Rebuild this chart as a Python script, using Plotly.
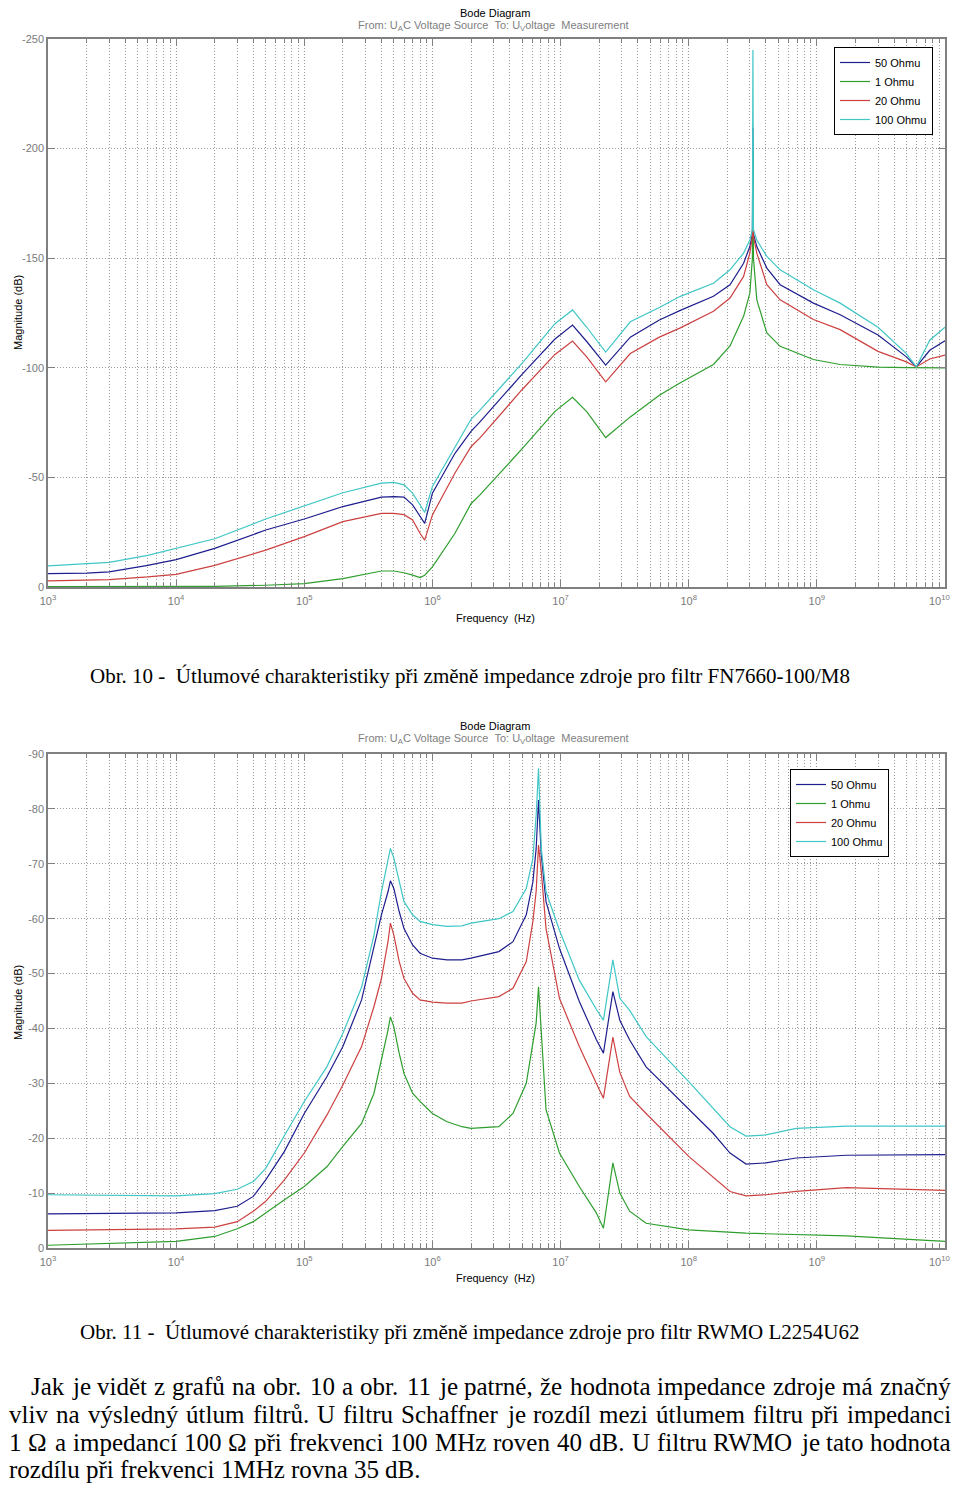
import plotly.graph_objects as go

# page is 960x1491; the browser body keeps an 8px margin, so the figure is 944x1475
PAGE_W, PAGE_H = 960, 1491
OFF = 8
W, H = PAGE_W - 2 * OFF, PAGE_H - 2 * OFF

# ---------------- Obr. 10 (FN7660-100/M8) ----------------
top_freq = [1e3, 2e3, 3e3, 6e3, 1e4, 2e4, 5e4, 1e5, 2e5, 4e5,
            5e5, 6e5, 7e5, 8e5, 8.7e5, 1e6, 1.5e6, 2e6, 2.35e6, 5e6,
            9e6, 1.24e7, 1.6e7, 2.25e7, 3.5e7, 5.9e7, 8.6e7, 1.56e8, 2.1e8, 2.68e8,
            3e8, 3.14e8, 3.17e8, 3.2e8, 3.4e8, 4.07e8, 5.17e8, 9.4e8, 1.52e9, 3e9,
            5e9, 5.97e9, 7.6e9, 1e10]
top_50 = [6.1, 6.3, 6.9, 9.9, 12.5, 17.6, 26, 31, 36.7, 41,
          41.2, 41, 37.5, 32, 29, 42.8, 61, 71, 75.3, 97,
          113, 119.5, 112, 101.2, 114, 121.8, 126.2, 132.6, 137.9, 147.7,
          155.3, 161, 209.5, 161, 155.3, 145.5, 137.9, 129.5, 124.2, 115,
          105, 100.4, 108, 112.3]
top_1 = [0.2, 0.2, 0.2, 0.2, 0.2, 0.3, 0.8, 1.5, 3.8, 7.3,
         7.3, 6.5, 5.4, 4.3, 5.4, 9.2, 24.5, 38, 42, 63,
         80, 86.5, 80, 68.2, 77.6, 87.5, 93.2, 101.5, 110, 123.5,
         134, 150, 196, 150, 131, 115.9, 109.8, 103.8, 101.5, 100.3,
         100.1, 100, 100, 100]
top_20 = [2.8, 3.0, 3.4, 4.6, 5.8, 9.9, 16.8, 23, 29.8, 33.6,
          33.6, 33, 30.6, 24.5, 21.4, 32.9, 52, 64, 68, 90,
          106, 112.2, 105, 93.6, 106.5, 114, 118.2, 125.8, 131.8, 141.7,
          152.3, 160, 170.5, 160, 152.3, 137.9, 131, 122, 117.4, 107.5,
          102.7, 100.4, 104, 105.8]
top_100 = [9.6, 10.5, 11.2, 14.4, 17.6, 22, 31, 37, 43, 47.4,
           47.7, 46.6, 42.8, 37.5, 34, 45.9, 64, 76.5, 80.7, 102,
           120, 126.4, 118.5, 107.2, 121, 127.5, 132.6, 138.6, 144.7, 152.3,
           158.3, 163, 245, 163, 158.3, 150.8, 144.7, 135.6, 129.5, 118.5,
           106.5, 100.4, 112.6, 118.5]

# ---------------- Obr. 11 (RWMO L2254U62) ----------------
bot_freq = [1e3, 1e4, 2e4, 3e4, 4e4, 5e4, 7e4, 1e5, 1.5e5, 2e5,
            2.8e5, 3.5e5, 4e5, 4.5e5, 4.7e5, 5e5, 5.5e5, 6e5, 7e5, 8e5,
            1e6, 1.3e6, 1.7e6, 2e6, 3.3e6, 4.25e6, 5.4e6, 6.08e6, 6.45e6, 6.73e6,
            7.07e6, 7.7e6, 9.8e6, 1.4e7, 1.9e7, 2.16e7, 2.56e7, 2.9e7, 3.46e7, 4.65e7,
            1e8, 1.55e8, 2.1e8, 2.8e8, 4e8, 6.9e8, 1.7e9, 1e10]
bot_50 = [6.2, 6.4, 6.8, 7.6, 9.4, 12.4, 17.6, 24.5, 31.2, 36.7,
          45.2, 54.6, 60.7, 64.9, 66.9, 65.5, 61.3, 58.2, 55.2, 53.7,
          52.8, 52.5, 52.5, 52.8, 54, 55.8, 60.7, 66.7, 72.8, 81.6,
          71.6, 63.1, 54.6, 44.9, 38, 35.5, 46.7, 41.5, 37.9, 33,
          25.2, 20.9, 17.3, 15.3, 15.5, 16.4, 16.9, 17]
bot_1 = [0.5, 1.2, 2.1, 3.5, 4.8, 6.4, 8.8, 11.2, 14.8, 18.5,
         22.7, 28.2, 34.2, 39.7, 42.1, 40.3, 35.5, 31.8, 28.2, 26.7,
         24.5, 23, 22.1, 21.8, 22.1, 24.5, 30, 37.3, 41, 47.6,
         39.1, 25.2, 17.3, 11.2, 6.4, 3.6, 15.5, 10, 6.7, 4.5,
         3.3, 3.0, 2.8, 2.7, 2.6, 2.5, 2.2, 1.2]
bot_20 = [3.2, 3.5, 3.8, 4.8, 6.7, 8.5, 12.4, 17.3, 24.2, 29.7,
          36.7, 44, 49.1, 55.8, 59.2, 57, 52.2, 49.1, 46.4, 45.2,
          44.8, 44.6, 44.6, 45, 45.8, 47.3, 52.2, 59.5, 65, 73.4,
          68.6, 58.2, 45.5, 36.7, 30, 27.3, 38.4, 32, 27.6, 24.5,
          16.7, 13, 10.3, 9.5, 9.7, 10.3, 11, 10.5]
bot_100 = [9.7, 9.5, 9.9, 10.7, 12.1, 14.5, 20.5, 26.7, 33, 39.1,
           47.5, 57, 64.9, 70.4, 72.8, 71, 66.7, 63.1, 60.7, 59.5,
           58.9, 58.6, 58.7, 59.2, 60, 61.3, 65.5, 71, 78.9, 87.4,
           72.8, 64.9, 57.9, 48.8, 43.5, 41.5, 52.5, 45.5, 43.3, 38.5,
           30.3, 25.5, 22.1, 20.4, 20.6, 21.8, 22.2, 22.2]

series_names = ["50 Ohmu", "1 Ohmu", "20 Ohmu", "100 Ohmu"]
series_colors = ["#1e1e8e", "#2e9e2e", "#cc4040", "#40c6c6"]

top_ticks = [0, 50, 100, 150, 200, 250]
top_ticktext = ["0", "-50", "-100", "-150", "-200", "-250"]
bot_ticks = [0, 10, 20, 30, 40, 50, 60, 70, 80, 90]
bot_ticktext = ["0", "-10", "-20", "-30", "-40", "-50", "-60", "-70", "-80", "-90"]
decades = [10 ** k for k in range(3, 11)]
# the last decade label (10^10) sits at the page edge, it is drawn separately
decade_text = ["10<sup>%d</sup>" % k for k in range(3, 10)] + [""]
last_decade_text = "10<sup>10</sup>"
minor_vals = [m * 10 ** k for k in range(3, 10) for m in range(2, 10)]

NB = "\u00a0"
caption1 = "Obr. 10 -" + NB + " Útlumové charakteristiky při změně impedance zdroje pro filtr FN7660-100/M8"
caption2 = "Obr. 11 -" + NB + " Útlumové charakteristiky při změně impedance zdroje pro filtr RWMO L2254U62"
para_lines = [
    "Jak je vidět z grafů na obr. 10 a obr. 11 je patrné, že hodnota impedance zdroje má značný",
    "vliv na výsledný útlum filtrů. U filtru Schaffner je rozdíl mezi útlumem filtru při impedanci",
    "1 Ω a impedancí 100 Ω při frekvenci 100 MHz roven 40 dB. U filtru RWMO je tato hodnota",
    "rozdílu při frekvenci 1MHz rovna 35 dB.",
]
para_justified = [True, True, True, False]
para_left = [30, 8, 8, 8]
para_right = 950
para_y = [1386, 1414, 1442, 1469]
PARA_SIZE = 25

# Times (Liberation Serif) advance widths, 1/1000 em, used to justify the paragraph
_TW = {' ': 250, 'a': 444, 'b': 500, 'c': 444, 'd': 500, 'e': 444, 'f': 333, 'g': 500,
       'h': 500, 'i': 278, 'j': 278, 'k': 500, 'l': 278, 'm': 778, 'n': 500, 'o': 500,
       'p': 500, 'q': 500, 'r': 333, 's': 389, 't': 278, 'u': 500, 'v': 500, 'w': 722,
       'x': 500, 'y': 500, 'z': 444, 'A': 722, 'B': 667, 'C': 667, 'D': 722, 'E': 611,
       'F': 556, 'G': 722, 'H': 722, 'I': 333, 'J': 389, 'K': 722, 'L': 611, 'M': 889,
       'N': 722, 'O': 722, 'P': 556, 'Q': 722, 'R': 667, 'S': 556, 'T': 611, 'U': 722,
       'V': 722, 'W': 944, 'X': 722, 'Y': 722, 'Z': 611, '.': 250, ',': 250, '-': 333,
       'Ω': 768}
_BASE = {'ě': 'e', 'é': 'e', 'ř': 'r', 'ů': 'u', 'ú': 'u', 'í': 'i', 'ý': 'y', 'á': 'a',
         'č': 'c', 'ž': 'z', 'š': 's', 'Ú': 'U'}


def text_w(s, size):
    tot = 0
    for ch in s:
        ch = _BASE.get(ch, ch)
        tot += 500 if ch.isdigit() else _TW.get(ch, 500)
    return tot * size / 1000.0


def px(p):
    return (p - OFF) / W


def py(p):
    return 1 - (p - OFF) / H


fig = go.Figure()
top_vals = [top_50, top_1, top_20, top_100]
bot_vals = [bot_50, bot_1, bot_20, bot_100]
for name, col, vals in zip(series_names, series_colors, top_vals):
    fig.add_trace(go.Scatter(x=top_freq, y=vals, mode="lines", name=name,
                             line=dict(color=col, width=1.2),
                             xaxis="x", yaxis="y", legend="legend"))
for name, col, vals in zip(series_names, series_colors, bot_vals):
    fig.add_trace(go.Scatter(x=bot_freq, y=vals, mode="lines", name=name,
                             line=dict(color=col, width=1.2),
                             xaxis="x2", yaxis="y2", legend="legend2"))

tickfont = dict(family="Liberation Sans, Arial, sans-serif", size=11, color="#7a7a7a")
grid_col = "#9a9a9a"
gdash = "1px,2px"


def xaxis_cfg(anchor):
    return dict(type="log", range=[3, 10], domain=[px(48), px(945)], anchor=anchor,
                automargin=False, ticklabelstandoff=3,
                tickmode="array", tickvals=decades, ticktext=decade_text,
                tickfont=tickfont, ticks="inside", ticklen=7, tickcolor="#808080",
                showline=True, linecolor="#808080", linewidth=1.5, mirror="ticks",
                showgrid=True, gridcolor=grid_col, griddash=gdash, gridwidth=1,
                zeroline=False,
                minor=dict(tickmode="array", tickvals=minor_vals, ticks="inside", ticklen=4,
                           tickcolor="#808080", showgrid=True, gridcolor=grid_col,
                           griddash=gdash, gridwidth=1))


def yaxis_cfg(anchor, rng, tv, tt, dom):
    return dict(range=rng, domain=dom, anchor=anchor, automargin=False,
                tickmode="array", tickvals=tv,
                ticktext=tt, tickfont=tickfont, ticks="inside", ticklen=7,
                tickcolor="#808080", showline=True, linecolor="#808080", linewidth=1.5,
                mirror="ticks", showgrid=True, gridcolor=grid_col, griddash=gdash,
                gridwidth=1, zeroline=False)


legend_font = dict(family="Liberation Sans, Arial, sans-serif", size=11, color="#000000")

fig.update_layout(
    template="none",
    width=W, height=H, margin=dict(l=0, r=0, t=0, b=0, pad=0, autoexpand=False),
    paper_bgcolor="white", plot_bgcolor="white",
    xaxis=xaxis_cfg("y"),
    yaxis=yaxis_cfg("x", [0, 250], top_ticks, top_ticktext, [py(587), py(39)]),
    xaxis2=xaxis_cfg("y2"),
    yaxis2=yaxis_cfg("x2", [0, 90], bot_ticks, bot_ticktext, [py(1248), py(754)]),
    legend=dict(x=px(933), y=py(47), xanchor="right", yanchor="top",
                bgcolor="white", bordercolor="#000000", borderwidth=1,
                font=legend_font, tracegroupgap=0, itemwidth=30),
    legend2=dict(x=px(889), y=py(769), xanchor="right", yanchor="top",
                 bgcolor="white", bordercolor="#000000", borderwidth=1,
                 font=legend_font, tracegroupgap=0, itemwidth=30),
    showlegend=True,
)

ann = []
small = dict(family="Liberation Sans, Arial, sans-serif", size=11, color="#000000")
gray = dict(family="Liberation Sans, Arial, sans-serif", size=11, color="#808080")
subtitle = ("From: U<sub>A</sub>C Voltage Source" + NB + " To: U<sub>V</sub>oltage" + NB
            + " Measurement")
for title_y, sub_y, xlab_y, ylab_y, tick_y in [(13, 26, 618, 313, 600), (726, 739, 1278, 1003, 1261)]:
    ann.append(dict(text="Bode Diagram", x=px(495), y=py(title_y), font=small))
    ann.append(dict(text=subtitle, x=px(494), y=py(sub_y), font=gray))
    ann.append(dict(text="Frequency" + NB + " (Hz)", x=px(495), y=py(xlab_y), font=small))
    ann.append(dict(text="Magnitude (dB)", x=px(18), y=py(ylab_y), font=small, textangle=-90))
    ann.append(dict(text=last_decade_text, x=px(951), y=py(tick_y), xanchor="right",
                    borderpad=0, font=tickfont))

serif = "Liberation Serif, Times New Roman, serif"
ann.append(dict(text=caption1, x=px(470), y=py(676), font=dict(family=serif, size=21, color="black")))
ann.append(dict(text=caption2, x=px(470), y=py(1332), font=dict(family=serif, size=21, color="black")))

# justified paragraph: one annotation per word
for line, just, lx, yy in zip(para_lines, para_justified, para_left, para_y):
    words = line.split(" ")
    widths = [text_w(wd, PARA_SIZE) for wd in words]
    if just and len(words) > 1:
        gap = (para_right - lx - sum(widths)) / (len(words) - 1)
    else:
        gap = text_w(" ", PARA_SIZE)
    xcur = lx
    for wd, ww in zip(words, widths):
        ann.append(dict(text=wd, x=px(xcur), y=py(yy), xanchor="left", borderpad=0,
                        font=dict(family=serif, size=PARA_SIZE, color="black")))
        xcur += ww + gap

for a in ann:
    a.setdefault("xanchor", "center")
    a.update(xref="paper", yref="paper", yanchor="middle", showarrow=False)
fig.update_layout(annotations=ann)

fig.write_html("out.html", config={"displayModeBar": False})
